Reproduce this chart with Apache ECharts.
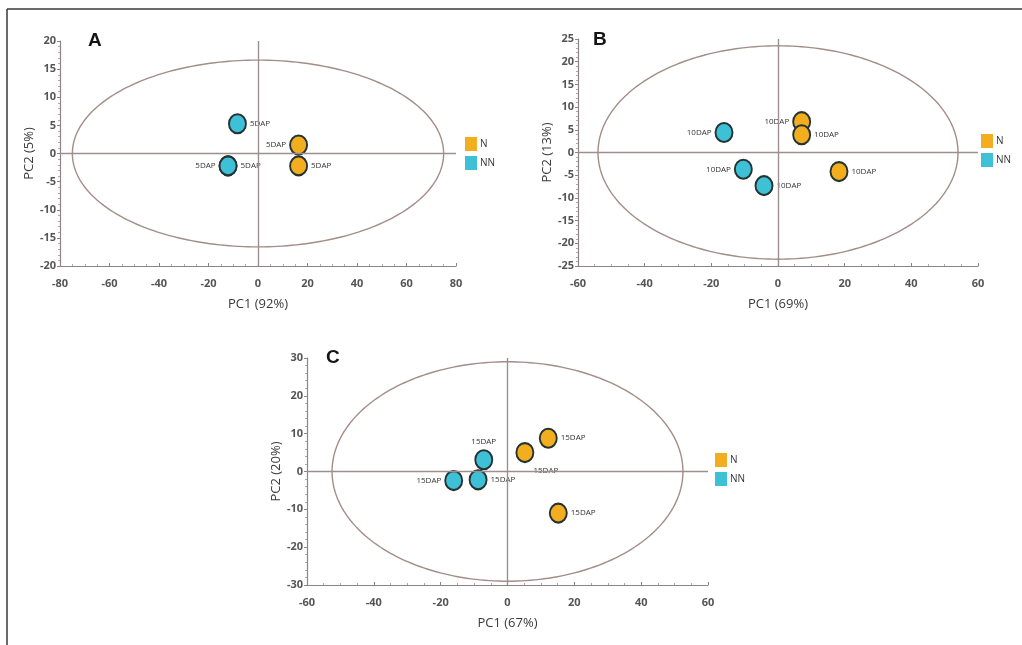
<!DOCTYPE html>
<html><head><meta charset="utf-8">
<script src="https://cdn.jsdelivr.net/npm/echarts@6/dist/echarts.min.js"></script>
<style>html,body{margin:0;padding:0;background:#fff}#c{width:1022px;height:645px}</style>
</head><body><div id="c"></div>
<script>
// ---- data ----
const panelNames = ['A', 'B', 'C'];
const xNames = ['PC1 (92%)', 'PC1 (69%)', 'PC1 (67%)'];
const yNames = ['PC2 (5%)', 'PC2 (13%)', 'PC2 (20%)'];
const xRange = [[-80, 80, 20], [-60, 60, 20], [-60, 60, 20]];
const yRange = [[-20, 20, 5], [-25, 25, 5], [-30, 30, 10]];
// confidence ellipse: centre x, centre y, radius x, radius y
const ellipseA = [0, 0, 75, 16.6];
const ellipseB = [0, 0, 54, 23.5];
const ellipseC = [0, 0, 52.5, 29];
const nA = [[16.4, 1.5], [16.4, -2.2]];
const nnA = [[-8.3, 5.3], [-12.1, -2.2], [-12.1, -2.2]];
const nB = [[7.1, 6.8], [7.1, 3.9], [18.3, -4.2]];
const nnB = [[-16.2, 4.4], [-10.4, -3.7], [-4.2, -7.3]];
const nC = [[5.2, 5.0], [12.2, 8.8], [15.2, -11.0]];
const nnC = [[-16.1, -2.4], [-8.8, -2.2], [-7.1, 3.1]];
const sampleLabels = ['5DAP', '10DAP', '15DAP'];

// ---- layout / style (not data) ----
const grids = [
  {left: 60, top: 41, width: 396, height: 225},
  {left: 578, top: 39, width: 400, height: 227},
  {left: 307, top: 358, width: 401, height: 227}
];
const labelPos = {
  nA: ['left', 'right'], nnA: ['right', 'left', 'right'],
  nB: ['left', 'right', 'right'], nnB: ['left', 'left', 'right'],
  nC: [[18, 25], 'right', 'right'], nnC: ['left', 'right', 'top']
};
const yNameGap = [18, 20, 24];
const xMinorSplit = [4, 4, 4];
const yMinorSplit = [5, 5, 5];
const titlePos = [[88, 31], [593, 30], [326, 348]];
const legendPos = [[465, 137], [981, 134], [715, 453]];
const colN = '#F2AE1E', colNN = '#3EC0D6';
const axisCol = '#8f8484';
const font = "'Open Sans', 'DejaVu Sans', sans-serif";

const ellipses = [ellipseA, ellipseB, ellipseC];
const ptsN = [nA, nB, nC];
const ptsNN = [nnA, nnB, nnC];
const posN = [labelPos.nA, labelPos.nB, labelPos.nC];
const posNN = [labelPos.nnA, labelPos.nnB, labelPos.nnC];

function ellipseRender(params, api) {
  const cx = api.value(0), cy = api.value(1), rx = api.value(2), ry = api.value(3);
  const pts = [];
  for (let k = 0; k <= 240; k++) {
    const t = k / 240 * 2 * Math.PI;
    pts.push(api.coord([cx + rx * Math.cos(t), cy + ry * Math.sin(t)]));
  }
  return {type: 'polyline', shape: {points: pts}, style: {stroke: '#a38d88', lineWidth: 1.4, fill: null}, silent: true};
}

const xAxis = [], yAxis = [], series = [], title = [], legend = [];
for (let i = 0; i < 3; i++) {
  xAxis.push({
    gridIndex: i, type: 'value', min: xRange[i][0], max: xRange[i][1], interval: xRange[i][2],
    name: xNames[i], nameLocation: 'middle', nameGap: 32,
    nameTextStyle: {fontFamily: font, fontSize: 13, color: '#3a3a3a'},
    axisLine: {onZero: false, lineStyle: {color: axisCol, width: 1.2}},
    axisTick: {show: true, length: 3, inside: true, lineStyle: {color: axisCol}},
    minorTick: {show: true, splitNumber: xMinorSplit[i], length: 2, lineStyle: {color: '#b0a8a8'}},
    axisLabel: {fontFamily: font, fontSize: 11, fontWeight: 'bold', color: '#555', margin: 12},
    splitLine: {show: false}
  });
  yAxis.push({
    gridIndex: i, type: 'value', min: yRange[i][0], max: yRange[i][1], interval: yRange[i][2],
    name: yNames[i], nameLocation: 'middle', nameGap: yNameGap[i], nameRotate: 90,
    nameTextStyle: {fontFamily: font, fontSize: 13, color: '#3a3a3a'},
    axisLine: {onZero: false, lineStyle: {color: axisCol, width: 1.2}},
    axisTick: {show: true, length: 3, lineStyle: {color: axisCol}},
    minorTick: {show: true, splitNumber: yMinorSplit[i], length: 2, lineStyle: {color: '#b0a8a8'}},
    axisLabel: {fontFamily: font, fontSize: 11, fontWeight: 'bold', color: '#555', margin: 4},
    splitLine: {show: false}
  });
  series.push({
    type: 'custom', xAxisIndex: i, yAxisIndex: i, renderItem: ellipseRender,
    data: [ellipses[i]], encode: {x: 0, y: 1}, silent: true, z: 1,
    markLine: {
      silent: true, symbol: 'none', animation: false,
      lineStyle: {color: '#9d8f8f', width: 1.4, type: 'solid'},
      label: {show: false},
      data: [{xAxis: 0}, {yAxis: 0}]
    }
  });
  const mk = (name, pts, pos, col) => ({
    name: name, type: 'scatter', xAxisIndex: i, yAxisIndex: i, z: 3,
    symbol: 'circle', symbolSize: [17, 19],
    itemStyle: {color: col, borderColor: '#263333', borderWidth: 2, opacity: 1},
    label: {show: true, formatter: sampleLabels[i], fontFamily: font, fontSize: 8, color: '#333', distance: 3},
    data: pts.map((p, j) => ({value: p, label: {position: pos[j]}}))
  });
  series.push(mk('N', ptsN[i], posN[i], colN));
  series.push(mk('NN', ptsNN[i], posNN[i], colNN));
  title.push({
    text: panelNames[i], left: titlePos[i][0], top: titlePos[i][1], padding: 0,
    textStyle: {fontFamily: "'Liberation Sans', Arial, sans-serif", fontSize: 19, fontWeight: 'bold', color: '#151515'}
  });
  legend.push({
    data: ['N', 'NN'], orient: 'vertical', left: legendPos[i][0], top: legendPos[i][1],
    padding: 0, itemGap: 5, itemWidth: 12, itemHeight: 14, icon: 'rect',
    itemStyle: {borderWidth: 0},
    textStyle: {fontFamily: font, fontSize: 10, color: '#333', padding: [0, 0, 0, -2]},
    selectedMode: false
  });
}

const chart = echarts.init(document.getElementById('c'), null, {renderer: 'canvas'});
chart.setOption({
  animation: false,
  backgroundColor: '#fff',
  grid: grids.map(g => Object.assign({containLabel: false}, g)),
  xAxis: xAxis, yAxis: yAxis, series: series, title: title, legend: legend,
  graphic: [
    {type: 'line', shape: {x1: 7, y1: 9, x2: 1022, y2: 9}, style: {stroke: '#3a3a3a', lineWidth: 1.5}},
    {type: 'line', shape: {x1: 7, y1: 9, x2: 7, y2: 645}, style: {stroke: '#3a3a3a', lineWidth: 1.5}}
  ]
});
</script>
</body></html>
